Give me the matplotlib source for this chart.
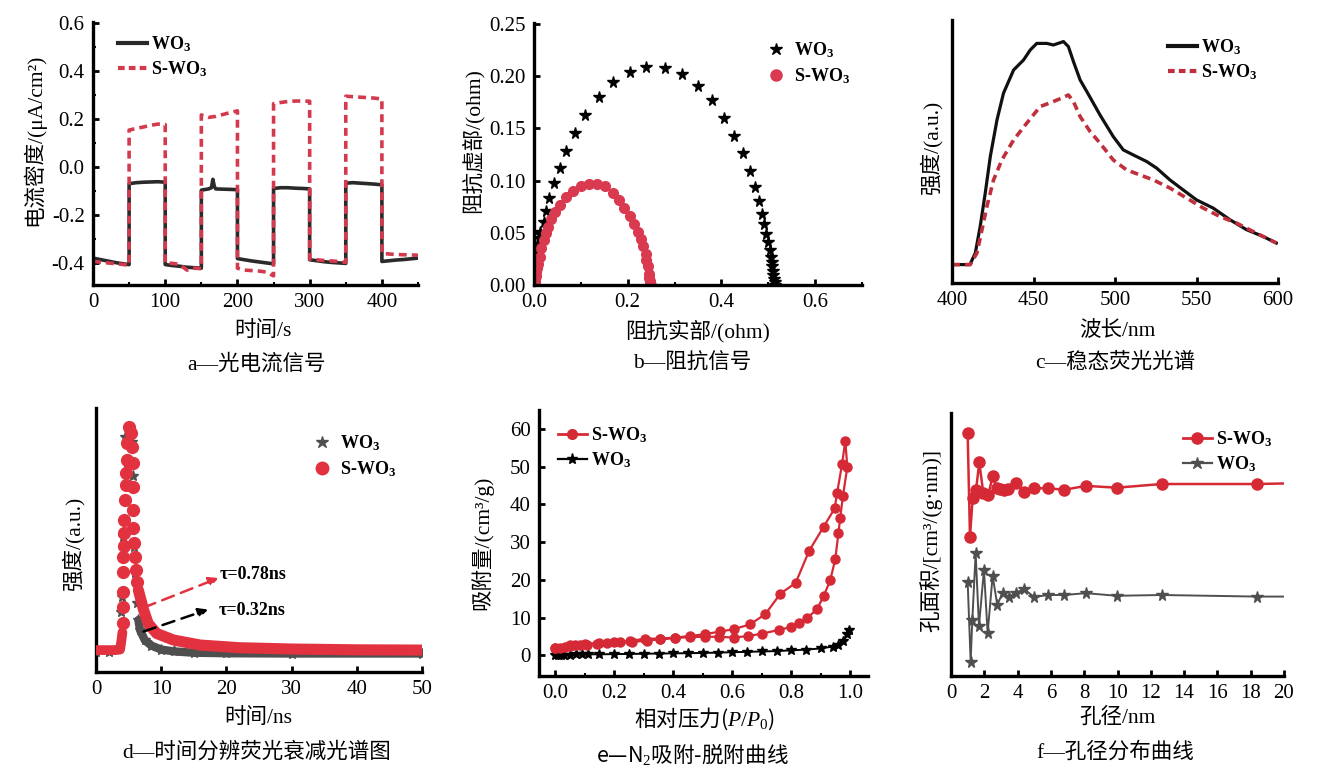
import numpy as np
import matplotlib
matplotlib.use('Agg')
import matplotlib.pyplot as plt
from matplotlib.lines import Line2D
from matplotlib.ticker import MultipleLocator

plt.rcParams['font.family'] = ['Liberation Serif', 'Noto Sans CJK SC']
plt.rcParams['mathtext.fontset'] = 'custom'
plt.rcParams['mathtext.rm'] = 'Liberation Serif'
plt.rcParams['mathtext.it'] = 'Liberation Serif:italic'
plt.rcParams['mathtext.bf'] = 'Liberation Serif:bold'
plt.rcParams['axes.unicode_minus'] = False

# ---------------- data ----------------
# (a) photocurrent
a_t_wo3 = [0, 10, 20, 30, 40, 50,
           50, 60, 70, 80, 90, 100,
           100, 110, 120, 130, 140, 150,
           150, 160, 164, 166, 168, 170, 180, 190, 200,
           200, 210, 220, 230, 240, 250,
           250, 260, 270, 280, 290, 300,
           300, 310, 320, 330, 340, 350,
           350, 360, 370, 380, 390, 400,
           400, 410, 420, 430, 440, 450]
a_y_wo3 = [-0.378, -0.384, -0.390, -0.396, -0.401, -0.405,
           -0.068, -0.064, -0.062, -0.061, -0.060, -0.062,
           -0.405, -0.409, -0.412, -0.416, -0.418, -0.420,
           -0.095, -0.090, -0.085, -0.050, -0.080, -0.090, -0.091, -0.092, -0.093,
           -0.380, -0.385, -0.390, -0.394, -0.398, -0.402,
           -0.088, -0.085, -0.085, -0.087, -0.088, -0.090,
           -0.385, -0.389, -0.393, -0.396, -0.398, -0.400,
           -0.066, -0.064, -0.066, -0.068, -0.070, -0.073,
           -0.392, -0.389, -0.386, -0.384, -0.381, -0.378]
a_t_swo3 = [0, 10, 20, 30, 40, 50,
            50, 60, 70, 80, 90, 100,
            100, 110, 120, 130, 140, 150,
            150, 160, 170, 180, 190, 200,
            200, 210, 220, 230, 240, 250,
            250, 260, 270, 280, 290, 300,
            300, 310, 320, 330, 340, 350,
            350, 360, 370, 380, 390, 400,
            400, 410, 420, 430, 440, 450]
a_y_swo3 = [-0.392, -0.395, -0.398, -0.401, -0.404, -0.408,
            0.155, 0.162, 0.168, 0.175, 0.180, 0.178,
            -0.398, -0.400, -0.404, -0.428, -0.420, -0.422,
            0.218, 0.208, 0.212, 0.220, 0.228, 0.235,
            -0.420, -0.428, -0.430, -0.432, -0.436, -0.452,
            0.265, 0.270, 0.274, 0.276, 0.276, 0.275,
            -0.382, -0.385, -0.388, -0.390, -0.392, -0.396,
            0.296, 0.294, 0.292, 0.290, 0.288, 0.284,
            -0.358, -0.361, -0.363, -0.364, -0.365, -0.366]

# (b) impedance (Nyquist)
b_re_wo3 = [0.001, 0.005, 0.007, 0.009, 0.011, 0.012, 0.021, 0.026, 0.033, 0.043, 0.055,
            0.069, 0.087, 0.109, 0.138, 0.168, 0.204, 0.240, 0.279, 0.316, 0.349, 0.379,
            0.406, 0.427, 0.445, 0.460, 0.471, 0.480, 0.486, 0.491, 0.496, 0.500, 0.503,
            0.505, 0.507, 0.508, 0.509, 0.511, 0.512, 0.514, 0.515]
b_im_wo3 = [0.000, 0.016, 0.029, 0.038, 0.045, 0.051, 0.060, 0.071, 0.083, 0.098, 0.112,
            0.128, 0.146, 0.163, 0.180, 0.194, 0.204, 0.209, 0.208, 0.202, 0.191, 0.177,
            0.160, 0.143, 0.126, 0.109, 0.094, 0.080, 0.068, 0.058, 0.049, 0.041, 0.034,
            0.027, 0.022, 0.018, 0.013, 0.010, 0.006, 0.003, 0.000]
b_re_swo3 = [0.001, 0.002, 0.003, 0.004, 0.005, 0.007, 0.009, 0.012, 0.016, 0.021, 0.025,
             0.030, 0.037, 0.044, 0.055, 0.069, 0.083, 0.100, 0.118, 0.134, 0.152, 0.168,
             0.182, 0.193, 0.204, 0.214, 0.223, 0.228, 0.233, 0.238, 0.240, 0.243, 0.245,
             0.246, 0.247, 0.248, 0.249]
b_im_swo3 = [0.000, 0.003, 0.006, 0.009, 0.012, 0.016, 0.020, 0.027, 0.035, 0.043, 0.050,
             0.056, 0.063, 0.070, 0.077, 0.084, 0.090, 0.095, 0.097, 0.097, 0.095, 0.088,
             0.081, 0.074, 0.066, 0.058, 0.051, 0.044, 0.037, 0.030, 0.024, 0.018, 0.011,
             0.007, 0.004, 0.002, 0.000]

# (c) steady-state PL
c_wl_wo3 = [400, 411, 414.3, 417.3, 420.4, 423.5, 427.6, 431.6, 437.8, 443.9, 448, 452,
            458.2, 462.2, 468.4, 471.4, 474.5, 478.6, 482.7, 490.8, 498.9, 505.1, 511.2,
            519.4, 525.5, 533.7, 541.8, 550, 560.2, 570.4, 580.6, 590.8, 599]
c_i_wo3 = [0.07, 0.07, 0.114, 0.215, 0.342, 0.481, 0.620, 0.722, 0.810, 0.848, 0.886, 0.911,
           0.911, 0.905, 0.918, 0.899, 0.842, 0.772, 0.728, 0.639, 0.557, 0.506, 0.487,
           0.462, 0.437, 0.392, 0.354, 0.316, 0.285, 0.241, 0.203, 0.177, 0.152]
c_wl_swo3 = [400, 411.2, 415.3, 418.4, 421.4, 425.5, 430.6, 437.8, 445.9, 454.1, 462.2,
             467.3, 471.4, 474.5, 478.6, 484.7, 490.8, 498.9, 507.1, 515.3, 523.5, 533.7,
             543.9, 554.1, 564.3, 574.5, 584.7, 599]
c_i_swo3 = [0.07, 0.07, 0.114, 0.203, 0.291, 0.392, 0.468, 0.544, 0.608, 0.671, 0.690,
            0.703, 0.715, 0.690, 0.633, 0.576, 0.532, 0.468, 0.430, 0.411, 0.392, 0.361,
            0.323, 0.285, 0.253, 0.228, 0.196, 0.152]

# (d) time-resolved PL decay
d_t_swo3 = [0, 1, 2, 3, 3.7, 3.9, 4.05, 4.2, 4.1, 4.1, 4.2, 4.2, 4.3, 4.3, 4.35, 4.45, 4.6,
            4.6, 4.7, 4.8, 5.1, 5.3, 5.5, 5.6, 5.6, 5.7, 5.7, 5.9, 6.0, 6.1, 6.25, 6.5,
            7.3, 8.0, 9.3, 11.9, 16.0, 22.0, 30.0, 40.0, 50.0]
d_i_swo3 = [0.083, 0.083, 0.083, 0.083, 0.085, 0.12, 0.15, 0.184, 0.247, 0.304, 0.38,
            0.437, 0.477, 0.525, 0.576, 0.652, 0.708, 0.753, 0.803, 0.866, 0.929, 0.905,
            0.853, 0.79, 0.70, 0.614, 0.544, 0.487, 0.437, 0.386, 0.342, 0.31,
            0.235, 0.184, 0.146, 0.121, 0.102, 0.092, 0.087, 0.084, 0.083]
d_t_wo3 = [0, 2, 3.6, 3.85, 4.0, 4.1, 4.2, 4.45, 4.7, 5.2, 5.5, 5.6, 5.85, 6.0, 6.25, 6.5,
           6.75, 7.5, 8.5, 10.0, 12.0, 15.0, 20.0, 30.0, 50.0]
d_i_wo3 = [0.075, 0.075, 0.09, 0.228, 0.285, 0.437, 0.513, 0.891, 0.79, 0.90, 0.87, 0.743,
           0.475, 0.374, 0.26, 0.197, 0.159, 0.12, 0.10, 0.085, 0.078, 0.073, 0.071, 0.07,
           0.07]

# (e) N2 adsorption-desorption
e_p_swo3 = [0.0, 0.017, 0.034, 0.05, 0.068, 0.085, 0.107, 0.141, 0.175, 0.22, 0.26, 0.31,
            0.356, 0.407, 0.458, 0.508, 0.554, 0.605, 0.655, 0.70, 0.757, 0.80, 0.825,
            0.853, 0.887, 0.91, 0.932, 0.949, 0.96, 0.966, 0.975, 0.99, 0.983,
            0.972, 0.955, 0.947, 0.91, 0.86, 0.815, 0.763, 0.712, 0.661, 0.605, 0.56,
            0.508, 0.458, 0.407, 0.356, 0.305, 0.254, 0.20, 0.15, 0.10, 0.05, 0.0]
e_v_swo3 = [1.8, 2.0, 2.3, 2.5, 2.6, 2.7, 2.8, 3.1, 3.2, 3.4, 3.5, 3.9,
            4.2, 4.6, 4.8, 4.9, 4.9, 4.7, 5.1, 5.7, 6.7, 7.5, 8.5,
            9.8, 12.2, 15.7, 19.9, 25.4, 32.5, 36.5, 42.2, 49.9, 56.8,
            50.6, 42.9, 38.9, 34.1, 27.6, 19.2, 16.3, 10.9, 8.2, 6.9, 6.3,
            5.6, 5.1, 4.7, 4.4, 4.4, 3.8, 3.5, 3.2, 3.0, 2.6, 2.0]
e_p_wo3 = [0.0, 0.01, 0.02, 0.03, 0.05, 0.07, 0.09, 0.11, 0.15, 0.2, 0.25, 0.3, 0.35, 0.4,
           0.45, 0.5, 0.55, 0.6, 0.65, 0.7, 0.75, 0.8, 0.85, 0.9, 0.94, 0.96, 0.975, 0.99,
           0.995]
e_v_wo3 = [0.0, 0.05, 0.1, 0.1, 0.15, 0.2, 0.2, 0.25, 0.25, 0.3, 0.35, 0.4, 0.45, 0.5,
           0.55, 0.6, 0.7, 0.8, 0.9, 1.0, 1.1, 1.3, 1.5, 1.8, 2.3, 2.8, 3.8, 5.5, 6.8]

# (f) pore size distribution
f_d_swo3 = [1.0, 1.14, 1.3, 1.5, 1.7, 1.94, 2.24, 2.5, 2.74, 2.94, 3.18, 3.44, 3.9, 4.4,
            5.0, 5.8, 6.8, 8.1, 9.95, 12.65, 18.36, 19.96]
f_a_swo3 = [0.924, 0.530, 0.676, 0.706, 0.812, 0.695, 0.689, 0.759, 0.715, 0.711, 0.708,
            0.711, 0.734, 0.699, 0.714, 0.714, 0.708, 0.723, 0.716, 0.730, 0.730, 0.732]
f_d_wo3 = [1.0, 1.18, 1.28, 1.48, 1.68, 1.98, 2.2, 2.5, 2.78, 3.1, 3.48, 3.9, 4.4, 5.0,
           5.8, 6.8, 8.1, 9.95, 12.65, 18.36, 19.96]
f_a_wo3 = [0.359, 0.055, 0.213, 0.467, 0.190, 0.404, 0.162, 0.381, 0.270, 0.317, 0.300,
           0.317, 0.330, 0.300, 0.308, 0.308, 0.315, 0.305, 0.308, 0.302, 0.302]

# ---------------- figure ----------------
W, H = 1320, 780
fig = plt.figure(figsize=(13.2, 7.8), dpi=100)
fig.patch.set_facecolor('white')

RED_A = '#d43a4e'
RED_B = '#d93a50'
RED_C = '#c0303c'
RED_D = '#e2323f'
RED_E = '#d52a36'
BLK = '#2a2a2a'
GRY = '#4f4f4f'
LEG = dict(family='Liberation Serif', weight='bold', size=13)
TICK = 15
LABEL = 15.5


def add_ax(l, r, t, b):
    return fig.add_axes([l / W, 1 - b / H, (r - l) / W, (b - t) / H])


def style(ax):
    for s in ['top', 'right']:
        ax.spines[s].set_visible(False)
    for s in ['left', 'bottom']:
        ax.spines[s].set_linewidth(2.4)
        ax.spines[s].set_color('black')
    ax.tick_params(which='major', direction='in', length=4, width=2, labelsize=TICK, pad=6)
    ax.tick_params(which='minor', direction='in', length=2.5, width=1.5)
    for lab in ax.get_xticklabels() + ax.get_yticklabels():
        lab.set_family('Liberation Serif')


def ftext(x, y, s, rot=0, size=LABEL, **kw):
    fig.text(x / W, 1 - y / H, s, rotation=rot, ha='center', va='center',
             fontsize=size, **kw)


def legend(ax, handles, labels, x, y, hl=1.6, htp=0.25, ls=0.3):
    ax.legend(handles, labels, loc='upper left', bbox_to_anchor=(x / W, 1 - y / H),
              bbox_transform=fig.transFigure, frameon=False, prop=LEG,
              handlelength=hl, handletextpad=htp, labelspacing=ls,
              borderaxespad=0, borderpad=0)


LAB_WO3 = r'WO$_\mathbf{3}$'
LAB_SWO3 = r'S-WO$_\mathbf{3}$'

# ---- (a)
ax = add_ax(93, 418, 22, 285)
ax.plot(a_t_wo3, a_y_wo3, color=BLK, lw=2.6)
ax.plot(a_t_swo3, a_y_swo3, color=RED_A, lw=2.6, dashes=(2.2, 1.4))
ax.set_xlim(0, 450)
ax.set_ylim(-0.49, 0.605)
ax.set_xticks([0, 100, 200, 300, 400])
ax.xaxis.set_minor_locator(MultipleLocator(50))
ax.set_yticks([-0.4, -0.2, 0.0, 0.2, 0.4, 0.6])
ax.set_yticklabels(['-0.4', '-0.2', '0.0', '0.2', '0.4', '0.6'])
ax.yaxis.set_minor_locator(MultipleLocator(0.1))
style(ax)
legend(ax, [Line2D([], [], color=BLK, lw=3),
            Line2D([], [], color=RED_A, lw=3, dashes=(1.6, 1.0))],
       [LAB_WO3, LAB_SWO3], 118, 34)

# ---- (b)
ax = add_ax(534, 862, 23, 285)
ax.plot(b_re_wo3, b_im_wo3, ls='none', marker='*', ms=8.5, color='black', mec='black')
ax.plot(b_re_swo3, b_im_swo3, ls='none', marker='o', ms=7, color=RED_B, mec=RED_B)
ax.set_xlim(0, 0.70)
ax.set_ylim(0, 0.251)
ax.set_xticks([0.0, 0.2, 0.4, 0.6])
ax.set_xticklabels(['0.0', '0.2', '0.4', '0.6'])
ax.xaxis.set_minor_locator(MultipleLocator(0.1))
ax.set_yticks([0, 0.05, 0.10, 0.15, 0.20, 0.25])
ax.set_yticklabels(['0.00', '0.05', '0.10', '0.15', '0.20', '0.25'])
style(ax)
legend(ax, [Line2D([], [], ls='none', marker='*', ms=9, color='black'),
            Line2D([], [], ls='none', marker='o', ms=8, color=RED_B)],
       [LAB_WO3, LAB_SWO3], 767, 40, hl=1.0, htp=0.5, ls=0.35)

# ---- (c)
ax = add_ax(952, 1278, 20, 283)
ax.plot(c_wl_wo3, c_i_wo3, color='#111111', lw=2.3)
ax.plot(c_wl_swo3, c_i_swo3, color=RED_C, lw=2.6, dashes=(2.2, 1.4))
ax.set_xlim(400, 600)
ax.set_ylim(0, 1)
ax.set_xticks([400, 450, 500, 550, 600])
ax.set_yticks([])
style(ax)
legend(ax, [Line2D([], [], color='#111111', lw=3),
            Line2D([], [], color=RED_C, lw=3, dashes=(1.6, 1.0))],
       [LAB_WO3, LAB_SWO3], 1168, 37)

# ---- (d)
ax = add_ax(96, 422, 408, 672)
tw = np.array(d_t_wo3)
iw = np.array(d_i_wo3)
ts = np.array(d_t_swo3)
is_ = np.array(d_i_swo3)
# dense data bands drawn as thick lines
mw = tw >= 6.5
ax.plot(tw[mw], iw[mw], color=GRY, lw=6, solid_capstyle='round', zorder=2)
ax.plot(tw, iw, ls='none', marker='*', ms=8, color=GRY, zorder=3)
ml = ts <= 4.05
mr = ts >= 6.5
ax.plot(ts[ml], is_[ml], color=RED_D, lw=7, solid_capstyle='round', zorder=4)
ax.plot(ts[mr], is_[mr], color=RED_D, lw=8, solid_capstyle='round', zorder=4)
ax.plot(ts[(~ml) & (~mr)], is_[(~ml) & (~mr)], ls='none', marker='o', ms=8.5,
        color=RED_D, zorder=4)
ax.annotate('', xy=(19.2, 0.36), xytext=(6.9, 0.24),
            arrowprops=dict(arrowstyle='-|>', ls=(0, (5, 3)), lw=1.8, color=RED_D,
                            mutation_scale=14), zorder=6)
ax.annotate('', xy=(17.6, 0.24), xytext=(6.9, 0.15),
            arrowprops=dict(arrowstyle='-|>', ls=(0, (5, 3)), lw=1.8, color='black',
                            mutation_scale=14), zorder=6)
ax.text(19.0, 0.368, 'τ=0.78ns', fontsize=13, fontweight='bold',
        family='Liberation Serif', va='center', ha='left')
ax.text(18.8, 0.232, 'τ=0.32ns', fontsize=13, fontweight='bold',
        family='Liberation Serif', va='center', ha='left')
ax.set_xlim(0, 50)
ax.set_ylim(0, 1)
ax.set_xticks([0, 10, 20, 30, 40, 50])
ax.set_yticks([])
style(ax)
legend(ax, [Line2D([], [], ls='none', marker='*', ms=9, color=GRY),
            Line2D([], [], ls='none', marker='o', ms=9, color=RED_D)],
       [LAB_WO3, LAB_SWO3], 313, 433, hl=1.0, htp=0.5, ls=0.35)

# ---- (e)
ax = add_ax(539, 868, 410, 676)
ax.plot(e_p_swo3, e_v_swo3, color=RED_E, lw=1.6, marker='o', ms=6.5, zorder=3)
ax.plot(e_p_wo3, e_v_wo3, color='black', lw=1.4, marker='*', ms=7, zorder=2)
ax.set_xlim(-0.055, 1.06)
ax.set_ylim(-5.5, 65)
ax.set_xticks([0.0, 0.2, 0.4, 0.6, 0.8, 1.0])
ax.set_xticklabels(['0.0', '0.2', '0.4', '0.6', '0.8', '1.0'])
ax.xaxis.set_minor_locator(MultipleLocator(0.1))
ax.set_yticks([0, 10, 20, 30, 40, 50, 60])
style(ax)
legend(ax, [Line2D([], [], color=RED_E, lw=2, marker='o', ms=7),
            Line2D([], [], color='black', lw=1.6, marker='*', ms=8)],
       [LAB_SWO3, LAB_WO3], 558, 425)

# ---- (f)
ax = add_ax(951, 1284, 413, 676)
nmk_s = list(range(len(f_d_swo3) - 1))
nmk_w = list(range(len(f_d_wo3) - 1))
ax.plot(f_d_swo3, f_a_swo3, color=RED_E, lw=1.8, marker='o', ms=8, markevery=nmk_s)
ax.plot(f_d_wo3, f_a_wo3, color=GRY, lw=1.4, marker='*', ms=8.5, markevery=nmk_w)
ax.set_xlim(0, 20)
ax.set_ylim(0, 1)
ax.set_xticks(list(range(0, 21, 2)))
ax.set_yticks([])
style(ax)
legend(ax, [Line2D([], [], color=RED_E, lw=2, marker='o', ms=8),
            Line2D([], [], color=GRY, lw=1.6, marker='*', ms=9)],
       [LAB_SWO3, LAB_WO3], 1183, 429)

# ---------------- axis titles & captions ----------------
ftext(34, 140, '电流密度/(μA/cm²)', rot=90)
ftext(472, 141, '阻抗虚部/(ohm)', rot=90)
ftext(931, 147, '强度/(a.u.)', rot=90)
ftext(73, 543, '强度/(a.u.)', rot=90)
ftext(482, 543, '吸附量/(cm³/g)', rot=90)
ftext(931, 541, '孔面积/[cm³/(g·nm)]', rot=90)

ftext(263, 331, '时间/s')
ftext(698, 331, '阻抗实部/(ohm)')
ftext(1117, 331, '波长/nm')
ftext(258, 718, '时间/ns')
ftext(704, 719, r'相对压力($P/P_0$)', family='Noto Sans CJK SC')
ftext(1117, 718, '孔径/nm')

ftext(257, 364, 'a—光电流信号')
ftext(692, 364, 'b—阻抗信号')
ftext(1115, 363, 'c—稳态荧光光谱')
ftext(257, 752, 'd—时间分辨荧光衰减光谱图')
ftext(692, 754, r'e—N$_2$吸附-脱附曲线', family='Noto Sans CJK SC')
ftext(1115, 752, 'f—孔径分布曲线')

fig.savefig('out.png', dpi=100, facecolor='white')
